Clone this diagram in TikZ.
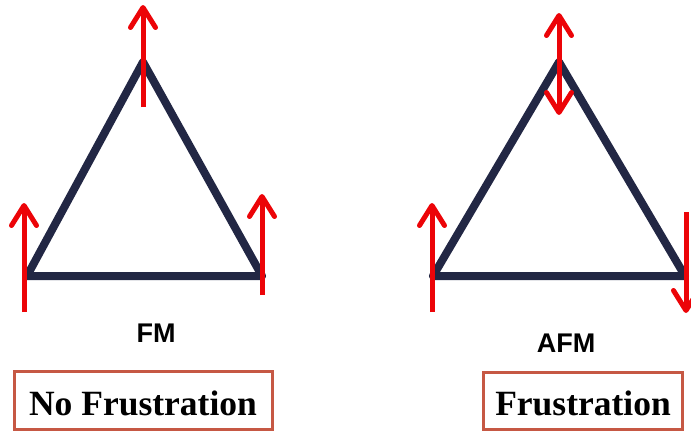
\documentclass[tikz,border=0pt]{standalone}
\usepackage{fontspec}
\setmainfont{Liberation Serif}
\newfontfamily\labelfont{Liberation Sans}
\usetikzlibrary{arrows.meta}
\definecolor{latticeblue}{RGB}{34,39,68}
\definecolor{spinred}{RGB}{236,4,8}
\definecolor{boxred}{RGB}{198,88,68}
\tikzset{
  bond/.style={draw=latticeblue, line width=8pt, line cap=round, line join=round},
  spin/.style={draw=spinred, line width=5pt, line cap=butt,
    arrows={-Straight Barb[length=20pt, width=25pt, round]}},
  spinboth/.style={draw=spinred, line width=5pt, line cap=butt,
    arrows={Straight Barb[length=20pt, width=25pt, round]-Straight Barb[length=20pt, width=25pt, round]}},
  order/.style={font=\labelfont\bfseries\fontsize{27}{27}\selectfont, text=black, inner sep=0pt},
  verdict/.style={draw=boxred, line width=3pt, inner sep=0pt, text height=29pt, text depth=0pt,
    font=\bfseries\fontsize{35.5}{35.5}\selectfont}
}
\begin{document}
\begin{tikzpicture}[x=1pt, y=-1pt]
  \useasboundingbox (0,0) rectangle (691,431);
  \clip (0,0) rectangle (691,431);

  % ferromagnetic triangle
  \coordinate (fA) at (27,276);
  \coordinate (fB) at (143,62);
  \coordinate (fC) at (262,276);
  \draw[bond] (fA) -- (fB) -- (fC) -- cycle;
  \coordinate (fAs) at (24,312);  \coordinate (fAe) at (24,203);
  \coordinate (fBs) at (143,107); \coordinate (fBe) at (143,5);
  \coordinate (fCs) at (262,295); \coordinate (fCe) at (262,194);
  \draw[spin] (fAs) -- (fAe);
  \draw[spin] (fBs) -- (fBe);
  \draw[spin] (fCs) -- (fCe);

  % antiferromagnetic triangle
  \coordinate (aA) at (433,276);
  \coordinate (aB) at (559,62);
  \coordinate (aC) at (685,276);
  \draw[bond] (aA) -- (aB) -- (aC) -- cycle;
  \coordinate (aAs) at (432,312); \coordinate (aAe) at (432,203);
  \coordinate (aBs) at (559,115); \coordinate (aBe) at (559,13);
  \coordinate (aCs) at (686,212); \coordinate (aCe) at (686,313);
  \draw[spin] (aAs) -- (aAe);
  \draw[spinboth] (aBs) -- (aBe);
  \draw[spin] (aCs) -- (aCe);

  % labels
  \node[order] (fm) at (156,333) {FM};
  \node[order] (afm) at (566,343) {AFM};
  \node[verdict, minimum width=258pt, minimum height=58pt] (nofr) at (143,400.5) {No Frustration};
  \node[verdict, minimum width=199pt, minimum height=57pt] (fr) at (583,401) {Frustration};
\end{tikzpicture}
\end{document}
